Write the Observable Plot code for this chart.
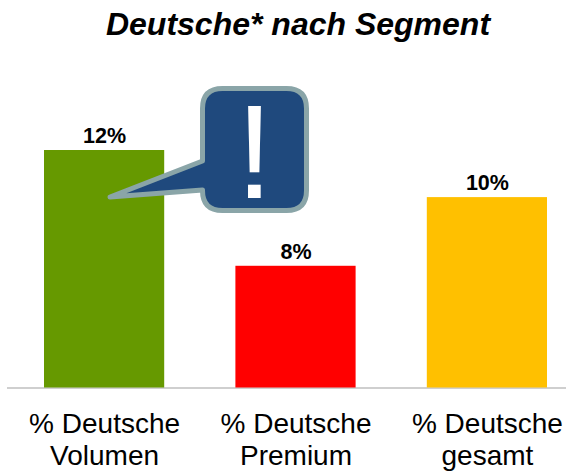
<!DOCTYPE html>
<html>
<head>
<meta charset="utf-8">
<script src="https://cdn.jsdelivr.net/npm/d3@7"></script>
<script src="https://cdn.jsdelivr.net/npm/@observablehq/plot@0.6"></script>
<style>
html,body{margin:0;padding:0;background:#fff;overflow:hidden}
#title{height:60px;box-sizing:border-box;padding:6px 0 0 30px;text-align:center;font:italic bold 32px "Liberation Sans",sans-serif;line-height:36px;color:#000;white-space:nowrap}
svg{display:block}
</style>
</head>
<body>
<div id="title">Deutsche* nach Segment</div>
<script>
const categories = ["% Deutsche\nVolumen", "% Deutsche\nPremium", "% Deutsche\ngesamt"];
const barHeights = [12, 6.15, 9.62];
const valueLabels = ["12%", "8%", "10%"];
const barColors = ["#669900", "#ff0000", "#ffc000"];
const calloutMark = "!";

const rows = categories.map((c, i) => ({c, h: barHeights[i], label: valueLabels[i], color: barColors[i]}));

function callout(index, scales) {
  const tipX = scales.x(categories[0]) + 66;
  const tipY = scales.y(barHeights[0]) + 47;
  const l = tipX + 92.5, r = l + 104, t = tipY - 108.5, b = tipY + 13.5, q = 20;
  const g = d3.create("svg:g");
  g.append("path")
    .attr("d", `M${l + q},${t}H${r - q}Q${r},${t} ${r},${t + q}V${b - q}Q${r},${b} ${r - q},${b}H${l + q}Q${l},${b} ${l},${b - q}V${tipY - 7}L${tipX},${tipY}L${l},${tipY - 36}V${t + q}Q${l},${t} ${l + q},${t}Z`)
    .attr("fill", "#1f497d")
    .attr("stroke", "#8aa5a8")
    .attr("stroke-width", 5)
    .attr("stroke-linejoin", "round");
  g.append("text")
    .attr("x", (l + r) / 2)
    .attr("y", tipY + 1)
    .attr("text-anchor", "middle")
    .attr("font-family", "Liberation Sans")
    .attr("font-size", 133)
    .attr("fill", "#fff")
    .text(calloutMark);
  return g.node();
}

const plot = Plot.plot({
  width: 566,
  height: 411,
  marginTop: 0,
  marginLeft: 7,
  marginRight: 0,
  marginBottom: 83.5,
  style: {background: "#fff", fontFamily: "Liberation Sans"},
  x: {domain: categories, range: [44, 547], paddingInner: 0.372, paddingOuter: 0, round: false, label: null},
  y: {domain: [0, 12], range: [327.5, 90], axis: null},
  marks: [
    Plot.ruleY([0], {stroke: "#bfbfbf", strokeWidth: 1.5}),
    Plot.barY(rows, {x: "c", y: "h", fill: d => d.color}),
    Plot.text(rows, {x: "c", y: "h", text: "label", dy: -14.5, fontSize: 21.5, fontWeight: "bold", fill: "#000"}),
    Plot.axisX({tickSize: 0, tickPadding: 22, fontSize: 28, lineHeight: 1.14, lineAnchor: "top", label: null, fill: "#000"}),
    callout
  ]
});
document.body.appendChild(plot);
</script>
</body>
</html>
